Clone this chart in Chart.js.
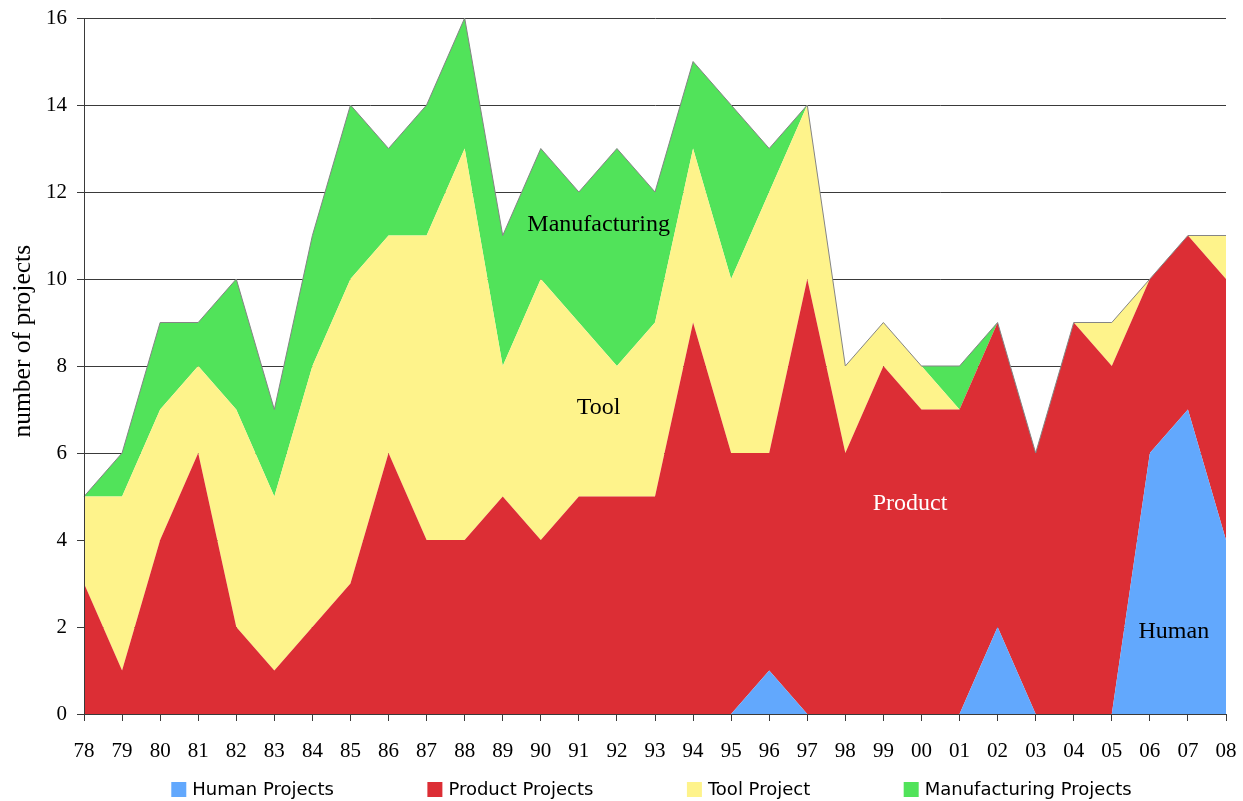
<!DOCTYPE html>
<html>
<head>
<meta charset="utf-8">
<script src="https://cdn.jsdelivr.net/npm/chart.js@4/dist/chart.umd.min.js"></script>
<style>
html,body{margin:0;padding:0;background:#fff;}
#wrap{width:1243px;height:801px;position:relative;}
canvas{display:block;}
</style>
</head>
<body>
<div id="wrap"><canvas id="c" width="1243" height="801"></canvas></div>
<script>
// ---- data ----
const years = ['78','79','80','81','82','83','84','85','86','87','88','89','90','91','92','93','94','95','96','97','98','99','00','01','02','03','04','05','06','07','08'];
const humanProjects = [0,0,0,0,0,0,0,0,0,0,0,0,0,0,0,0,0,0,1,0,0,0,0,0,2,0,0,0,6,7,4];
const productProjects = [3,1,4,6,2,1,2,3,6,4,4,5,4,5,5,5,9,6,5,10,6,8,7,7,7,6,9,8,4,4,6];
const toolProjects = [2,4,3,2,5,4,6,7,5,7,9,3,6,4,3,4,4,4,6,4,2,1,1,0,0,0,0,1,0,0,1];
const manufacturingProjects = [0,1,2,1,3,2,3,4,2,3,3,3,3,3,5,3,2,4,1,0,0,0,0,1,0,0,0,0,0,0,0];
const seriesNames = ['Human Projects','Product Projects','Tool Project','Manufacturing Projects'];
const areaNames = ['Manufacturing','Tool','Product','Human'];
const yTitle = 'number of projects';

const colors = ['#62A8FD','#DC2E35','#FEF38B','#51E35A'];
const serif = '"Liberation Serif", "Times New Roman", serif';
const sans = '"DejaVu Sans", Verdana, sans-serif';
const axisColor = '#3a3a3a';

const overlay = {
  id: 'overlay',
  afterDatasetsDraw(chart) {
    const {ctx, chartArea: a, scales: {x, y}} = chart;
    ctx.save();
    ctx.strokeStyle = axisColor;
    ctx.lineWidth = 1;
    ctx.beginPath();
    ctx.moveTo(Math.round(a.left) + 0.5, a.top);
    ctx.lineTo(Math.round(a.left) + 0.5, a.bottom);
    ctx.stroke();
    const anchors = [
      {i: 13.52, v: 11.10, c: '#000'},
      {i: 13.52, v: 6.90, c: '#000'},
      {i: 21.70, v: 4.69, c: '#fff'},
      {i: 28.63, v: 1.75, c: '#000'}
    ];
    ctx.font = '24px ' + serif;
    ctx.textAlign = 'center';
    ctx.textBaseline = 'alphabetic';
    areaNames.forEach((t, k) => {
      ctx.fillStyle = anchors[k].c;
      ctx.fillText(t, x.getPixelForValue(anchors[k].i), y.getPixelForValue(anchors[k].v));
    });
    ctx.restore();
  },
  afterDraw(chart) {
    const {ctx, scales: {y}} = chart;
    ctx.save();
    ctx.translate(23, y.getPixelForValue(8.57));
    ctx.rotate(-Math.PI / 2);
    ctx.font = '25.5px ' + serif;
    ctx.fillStyle = '#000';
    ctx.textAlign = 'center';
    ctx.textBaseline = 'middle';
    ctx.fillText(yTitle, 0, 0);
    ctx.restore();
    ctx.save();
    ctx.font = '18px ' + sans;
    const box = 15, gap = 6, spacing = 93.5;
    const widths = seriesNames.map(n => box + gap + ctx.measureText(n).width);
    const total = widths.reduce((s, w) => s + w, 0) + spacing * (widths.length - 1);
    let xx = 651.5 - total / 2;
    const cy = 789.5;
    ctx.textBaseline = 'middle';
    ctx.textAlign = 'left';
    seriesNames.forEach((n, k) => {
      ctx.fillStyle = colors[k];
      ctx.fillRect(xx, cy - box / 2, box, box);
      ctx.fillStyle = '#000';
      ctx.fillText(n, xx + box + gap, cy + 1);
      xx += widths[k] + spacing;
    });
    ctx.restore();
  }
};

const seriesData = [humanProjects, productProjects, toolProjects, manufacturingProjects];
const datasets = seriesData.map((d, k) => ({
  label: seriesNames[k],
  data: d,
  backgroundColor: colors[k],
  borderColor: k === 3 ? '#858585' : 'rgba(0,0,0,0)',
  borderWidth: k === 3 ? 1 : 0,
  fill: k === 0 ? 'origin' : '-1',
  pointRadius: 0,
  pointHoverRadius: 0,
  tension: 0
}));

new Chart(document.getElementById('c'), {
  type: 'line',
  data: {labels: years, datasets},
  options: {
    responsive: false,
    animation: false,
    devicePixelRatio: 1,
    layout: {padding: {top: 18, right: 17, bottom: 37, left: 0}},
    plugins: {
      legend: {display: false},
      tooltip: {enabled: false},
      filler: {drawTime: 'beforeDatasetsDraw'}
    },
    scales: {
      x: {
        z: 1,
        offset: false,
        afterFit(s) { s.height = 50; s.paddingLeft = 0; s.paddingRight = 0; },
        grid: {drawOnChartArea: false, drawTicks: true, tickLength: 7, color: axisColor},
        border: {display: true, color: axisColor, width: 1},
        ticks: {font: {family: serif, size: 21}, color: '#000', padding: 18, maxRotation: 0, autoSkip: false}
      },
      y: {
        stacked: true,
        min: 0,
        max: 16,
        afterFit(s) { s.width = 84; s.paddingTop = 0; s.paddingBottom = 0; },
        grid: {drawOnChartArea: true, drawTicks: true, tickLength: 7, color: axisColor},
        border: {display: true, color: axisColor, width: 1},
        ticks: {stepSize: 2, font: {family: serif, size: 21}, color: '#000', padding: 10}
      }
    }
  },
  plugins: [overlay]
});
</script>
</body>
</html>
